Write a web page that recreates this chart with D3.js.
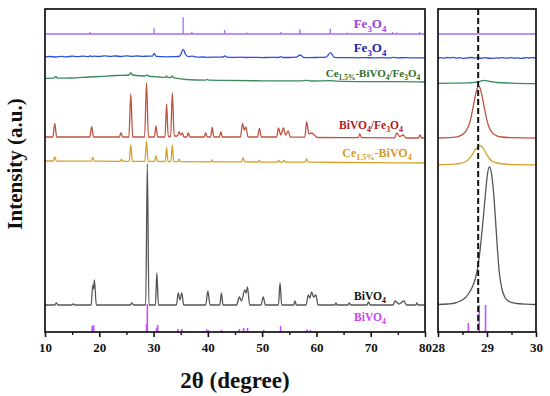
<!DOCTYPE html>
<html><head><meta charset="utf-8">
<script src="https://cdn.jsdelivr.net/npm/d3@7"></script>
<style>
html,body{margin:0;padding:0;background:#fff;}
svg{display:block;font-family:"Liberation Serif","Times New Roman",serif;font-weight:bold;}
</style>
</head><body><svg id="c" width="550" height="396"></svg>
<script>
// ---------------- DATA ----------------
const mainTicks = [10, 20, 30, 40, 50, 60, 70, 80];
const mainMinor = [15, 25, 35, 45, 55, 65, 75];
const zoomTicks = [28, 29, 30];
const zoomMinor = [28.5, 29.5];
const refLine = 28.82;

// vertical offsets (a.u.) of each pattern
const offsetsMain = {bivo4Ref:0, bivo4:27, ceBivo4:169, bivo4Fe:194, ceBivo4Fe:250, fe3o4:274, fe3o4Ref:298};
const offsetsZoom = {bivo4Ref:0, bivo4:27, ceBivo4:167, bivo4Fe:193.7, ceBivo4Fe:248.7, fe3o4:274, fe3o4Ref:298};

// standard reference sticks [2θ, intensity]
const fe3o4RefSticks = [[18.3,2],[30.1,5.7],[35.45,16.7],[37.05,2.3],[43.1,4],[47.2,1.5],[53.45,2],[56.95,4.7],[62.55,5.3],[65.7,1.5],[74.0,2],[74.8,1.5],[79.0,2]];
const bivo4RefSticks = [[18.7,6],[18.95,7],[28.7,8],[28.85,28],[30.55,4],[30.75,7],[34.5,3],[35.2,3],[39.8,2.5],[40.1,2],[42.5,2],[45.8,3],[46.6,4],[47.3,4],[50.3,2],[53.4,6],[58.3,2.5],[58.9,2]];
const bivo4RefSticksZoom = [[28.62,9],[28.84,27],[28.97,27]];

// measured patterns, 10-80°
const bivo4 = [[10,0],[11.8,0],[12.1,2],[12.4,0],[14.9,0],[15.2,1],[15.5,0],[18.5,0],[18.8,20],[18.95,16],[19.1,25],[19.45,0],[25.7,0],[26.0,2],[26.3,0],[28.55,0],[28.85,141],[29.15,0],[30.35,0],[30.6,32],[30.9,0],[34.2,0],[34.55,12],[34.85,5],[35.2,12],[35.55,0],[39.6,0],[40.0,14],[40.4,0],[42.2,0],[42.5,12],[42.8,0],[45.3,0],[45.8,8],[46.2,4],[46.8,15],[47.05,12],[47.3,18],[47.7,0],[49.8,0],[50.2,8],[50.6,0],[53.0,0],[53.3,22],[53.6,0],[55.8,0],[56.05,4],[56.3,0],[58.1,0],[58.5,10],[58.8,7],[59.1,13],[59.5,8],[59.9,10],[60.3,0],[63.4,0],[63.6,2],[63.8,0],[65.8,0],[66.05,2],[66.3,0],[69.3,0],[69.6,3],[69.9,0],[74.1,0],[74.5,4],[75.2,1],[76.1,4],[76.6,0],[78.3,0],[78.5,2],[78.7,0],[80,0]];
const ceBivo4 = [[10,2],[11.5,2],[11.8,6],[12.1,2],[15,1.9],[18.5,1.8],[18.8,5.5],[19.1,1.8],[23.8,1.7],[24.1,3.5],[24.4,1.7],[25.5,1.7],[25.8,18],[26.1,1.7],[28.4,1.6],[28.7,22],[29.0,1.6],[30.2,1.6],[30.45,7],[30.7,1.6],[32.15,1.5],[32.4,15.5],[32.65,1.5],[33.2,1.5],[33.45,18],[33.7,1.5],[34.5,1.4],[34.7,4],[34.9,1.4],[40.6,1.2],[40.8,3],[41.0,1.2],[46.2,1.1],[46.5,5],[46.8,1.1],[49.3,1],[49.5,2.5],[49.7,1],[52.8,0.9],[53.0,2.5],[53.3,1],[53.7,0.9],[54.0,2.5],[54.3,0.9],[57.9,0.8],[58.2,4],[58.5,0.8],[65,0.5],[70,0.3],[75,0.2],[80,0]];
const bivo4Fe = [[10,1],[11.45,1],[11.8,14.7],[12.15,1],[18.25,1],[18.6,11.3],[18.95,1],[23.7,1],[24.0,5.3],[24.3,1],[25.45,1],[25.8,44],[26.15,1],[28.35,1],[28.7,55.3],[29.05,1],[30.15,1],[30.45,12],[30.75,1],[32.1,1],[32.4,34],[32.7,1.5],[33.15,1.5],[33.45,45.3],[33.8,2],[34.4,2],[34.7,6.3],[35.0,3],[35.3,5],[35.6,1],[36.1,1],[36.4,5],[36.7,1],[39.3,1],[39.6,5],[39.9,1],[40.5,1],[40.8,10.7],[41.1,1],[42.1,1],[42.4,6],[42.7,1],[46.0,1],[46.4,14.7],[46.7,8],[47.0,11],[47.4,1],[49.15,1],[49.5,9.7],[49.85,1],[52.7,1],[53.0,10],[53.45,3],[53.9,10],[54.35,3],[54.8,7],[55.2,0.8],[57.85,0.8],[58.2,16.3],[58.6,4],[59.1,5],[59.6,3],[60.2,0.5],[67.7,0.3],[68.0,4],[68.3,0.3],[74.4,0.2],[74.8,5],[75.3,1.5],[76.0,3],[76.5,0],[78.8,0],[79.1,3],[79.4,0],[80,0]];
const ceBivo4Fe = [[10,3.7],[11.7,3.8],[12.0,5.5],[12.3,3.8],[15,4],[18,5],[20,5.5],[23,6.5],[25.5,7],[25.8,9.3],[26.1,7],[28.5,6],[28.8,7.2],[29.1,5.8],[31,5],[32.2,4.7],[32.4,6],[32.6,4.6],[33.2,4.5],[33.45,6],[33.7,4.3],[36,2.5],[39.6,1.9],[39.9,2.6],[40.2,1.8],[43,1.6],[50,1.2],[57,1.1],[58.2,1.6],[59,1],[62.5,1.3],[65,0.6],[70,0.3],[75,0.3],[80,0]];
const fe3o4 = [[10,1.2],[11,1.5],[12,1.0],[13,1.6],[14,1.2],[15,1.8],[16,1.3],[17,1.9],[18,1.4],[18.3,2.2],[18.6,1.5],[19,1.8],[20,1.5],[21,2.1],[22,1.6],[23,2.0],[24,1.5],[25,2.2],[26,1.7],[27,2.0],[28,1.6],[29,1.9],[29.8,1.8],[30.1,4.5],[30.5,1.6],[31.5,1.4],[32.5,1.2],[33.5,1.3],[34.6,1.5],[35.0,3.2],[35.45,8.7],[35.9,3.5],[36.4,1.4],[37.1,1.8],[38,0.9],[39,1.0],[40,0.7],[41,0.9],[42,0.8],[42.8,1.0],[43.1,2],[43.5,0.9],[44.5,0.6],[46,0.8],[47,0.5],[48.5,0.7],[50,0.4],[51.5,0.6],[53,0.5],[53.4,1.4],[53.8,0.5],[55,0.5],[56.3,0.8],[57.0,3],[57.6,0.7],[58.5,0.4],[60,0.5],[61.8,0.8],[62.6,5.3],[63.3,0.6],[64.5,0.3],[66,0.4],[67.5,0.2],[69,0.4],[70.5,0.1],[72,0.3],[73.5,0.1],[74.2,0.6],[75,0.2],[76.5,0.3],[78,0.1],[80,0.2]];

// measured patterns, 28-30° (zoom)
const bivo4Zoom = [[28,0.5],[28.2,1],[28.35,2],[28.45,4],[28.55,7],[28.62,11],[28.7,18],[28.76,26],[28.82,40],[28.87,60],[28.92,85],[28.97,112],[29.01,131],[29.05,138.3],[29.09,132],[29.13,115],[29.17,88],[29.21,58],[29.25,33],[29.3,17],[29.36,8],[29.45,3.5],[29.6,1.5],[29.8,0.8],[30,0.5]];
const ceBivo4Zoom = [[28,0.3],[28.3,0.8],[28.45,1.5],[28.55,3],[28.62,5.5],[28.68,9],[28.73,13],[28.78,16.5],[28.83,19],[28.86,19.3],[28.9,18],[28.95,14.5],[29.0,10],[29.05,6.5],[29.1,4],[29.2,2],[29.35,1],[29.6,0.4],[30,0.1]];
const bivo4FeZoom = [[28,0.3],[28.2,0.6],[28.35,1.2],[28.45,2.5],[28.52,4.5],[28.58,8],[28.63,13],[28.67,20],[28.72,32],[28.76,42],[28.8,50],[28.83,52.3],[28.86,50],[28.9,42],[28.94,32],[28.98,22],[29.02,14],[29.07,8],[29.13,4.5],[29.2,2.5],[29.3,1.3],[29.5,0.6],[30,0.2]];
const ceBivo4FeZoom = [[28,0],[28.3,0.1],[28.5,0.2],[28.7,0.6],[28.85,1.8],[28.94,3],[29.05,2],[29.2,0.8],[29.5,0.2],[30,-0.3]];
const fe3o4Zoom = [[28,0],[28.05,0.4],[28.1,-0.2],[28.2,0.5],[28.25,0.1],[28.3,0.6],[28.4,-0.2],[28.45,0.3],[28.5,-0.3],[28.6,0.2],[28.7,0.5],[28.75,-0.1],[28.8,0.3],[28.9,-0.3],[28.95,0.4],[29.0,0],[29.1,-0.4],[29.2,0.2],[29.25,-0.2],[29.3,0.3],[29.4,-0.1],[29.5,0.4],[29.55,-0.2],[29.6,0.2],[29.7,-0.3],[29.8,0.3],[29.85,0],[29.9,0.4],[30,0]];
const fe3o4RefZoom = [[28,0],[30,0]];

// labels
const labelParts = {
  fe3o4Ref: [["Fe",0],["3",1],["O",0],["4",1]],
  fe3o4: [["Fe",0],["3",1],["O",0],["4",1]],
  ceBivo4Fe: [["Ce",0],["1.5%",1],["-BiVO",0],["4",1],["/Fe",0],["3",1],["O",0],["4",1]],
  bivo4Fe: [["BiVO",0],["4",1],["/Fe",0],["3",1],["O",0],["4",1]],
  ceBivo4: [["Ce",0],["1.5%",1],["-BiVO",0],["4",1]],
  bivo4: [["BiVO",0],["4",1]],
  bivo4Ref: [["BiVO",0],["4",1]]
};

// ---------------- STYLE / LAYOUT ----------------
const lineColor = {bivo4Ref:"#c653f5", bivo4:"#555555", ceBivo4:"#d6a12c", bivo4Fe:"#bd5440", ceBivo4Fe:"#3b8a5c", fe3o4:"#2f4fd6", fe3o4Ref:"#a56cf0"};
const textColor = {bivo4Ref:"#c844f2", bivo4:"#111111", ceBivo4:"#d49a2a", bivo4Fe:"#b3201c", ceBivo4Fe:"#2e6e2e", fe3o4:"#2424b0", fe3o4Ref:"#9a3fe0"};
const labelPos = {fe3o4Ref:[370,28,13], fe3o4:[370,52,13], ceBivo4Fe:[373,77,11], bivo4Fe:[371,129,11.5], ceBivo4:[377,157,12], bivo4:[370,300,11.5], bivo4Ref:[370,321,11.5]};

const svg = d3.select("#c");
const yTop = 9, yBot = 332;
const xL = d3.scaleLinear([10,80],[45,425]);
const xR = d3.scaleLinear([28,30],[438,536]);
const y = d3.scaleLinear([0,323],[yBot, yTop]);

function drawPanel(x, series, offs, sticksRef, sticksFe, refBase){
  const g = svg.append("g");
  const line = d3.line().x(d=>x(d[0])).y(d=>y(d[1])).curve(d3.curveMonotoneX);
  for (const [key, data] of series){
    g.append("path").attr("d", line(data.map(d=>[d[0], d[1]+offs[key]])))
      .attr("fill","none").attr("stroke", lineColor[key]).attr("stroke-width",1.3).attr("stroke-linejoin","round");
  }
  g.append("path").attr("d", d3.line().x(d=>x(d[0])).y(d=>y(d[1]+offs.fe3o4Ref))(refBase))
    .attr("fill","none").attr("stroke", lineColor.fe3o4Ref).attr("stroke-width",1.3);
  g.selectAll(null).data(sticksFe).join("line")
    .attr("x1",d=>x(d[0])).attr("x2",d=>x(d[0]))
    .attr("y1",y(offs.fe3o4Ref)).attr("y2",d=>y(offs.fe3o4Ref+d[1]))
    .attr("stroke", lineColor.fe3o4Ref).attr("stroke-width",1.3);
  g.selectAll(null).data(sticksRef).join("line")
    .attr("x1",d=>x(d[0])).attr("x2",d=>x(d[0]))
    .attr("y1",y(offs.bivo4Ref)).attr("y2",d=>y(offs.bivo4Ref+d[1]))
    .attr("stroke", lineColor.bivo4Ref).attr("stroke-width",1.6);
  return g;
}

drawPanel(xL, [["bivo4",bivo4],["ceBivo4",ceBivo4],["bivo4Fe",bivo4Fe],["ceBivo4Fe",ceBivo4Fe],["fe3o4",fe3o4]],
  offsetsMain, bivo4RefSticks, fe3o4RefSticks, [[10,0],[80,0]]);
drawPanel(xR, [["bivo4",bivo4Zoom],["ceBivo4",ceBivo4Zoom],["bivo4Fe",bivo4FeZoom],["ceBivo4Fe",ceBivo4FeZoom],["fe3o4",fe3o4Zoom]],
  offsetsZoom, bivo4RefSticksZoom, [], fe3o4RefZoom);

svg.append("line").attr("x1",xR(refLine)).attr("x2",xR(refLine)).attr("y1",yTop).attr("y2",yBot)
  .attr("stroke","#111").attr("stroke-width",2).attr("stroke-dasharray","6,3");

for (const x of [xL, xR]){
  svg.append("rect").attr("x",x.range()[0]).attr("y",yTop).attr("width",x.range()[1]-x.range()[0]).attr("height",yBot-yTop)
    .attr("fill","none").attr("stroke","#111").attr("stroke-width",1.7);
}

function axis(x, major, minor){
  const a = svg.append("g").attr("transform",`translate(0,${yBot})`)
    .call(d3.axisBottom(x).tickValues(major).tickSize(5).tickPadding(5.5).tickFormat(d3.format("d")));
  a.select(".domain").remove();
  a.selectAll("line").attr("stroke","#111").attr("stroke-width",1.6);
  a.selectAll("text").attr("font-size",13).attr("font-family","Liberation Serif").attr("font-weight","bold").attr("fill","#111");
  const m = svg.append("g").attr("transform",`translate(0,${yBot})`)
    .call(d3.axisBottom(x).tickValues(minor).tickSize(3).tickFormat(""));
  m.select(".domain").remove();
  m.selectAll("line").attr("stroke","#111").attr("stroke-width",1.4);
}
axis(xL, mainTicks, mainMinor);
axis(xR, zoomTicks, zoomMinor);

for (const key of Object.keys(labelParts)){
  const [lx, ly, fs] = labelPos[key];
  const t = svg.append("text").attr("x",lx).attr("y",ly).attr("text-anchor","middle")
    .attr("font-size",fs).attr("fill",textColor[key]);
  let shifted = false;
  for (const [s, sub] of labelParts[key]){
    const ts = t.append("tspan").text(s);
    if (sub && !shifted){ ts.attr("dy", fs*0.28).attr("font-size", fs*0.68); shifted = true; }
    else if (sub){ ts.attr("font-size", fs*0.68); }
    else if (!sub && shifted){ ts.attr("dy", -fs*0.28); shifted = false; }
  }
}

svg.append("text").attr("x",235).attr("y",388).attr("text-anchor","middle")
  .attr("font-size",23).attr("fill","#111").text("2θ (degree)");
svg.append("text").attr("transform","translate(22,164) rotate(-90)").attr("text-anchor","middle")
  .attr("font-size",21).attr("fill","#111").text("Intensity (a.u.)");
</script></body></html>
